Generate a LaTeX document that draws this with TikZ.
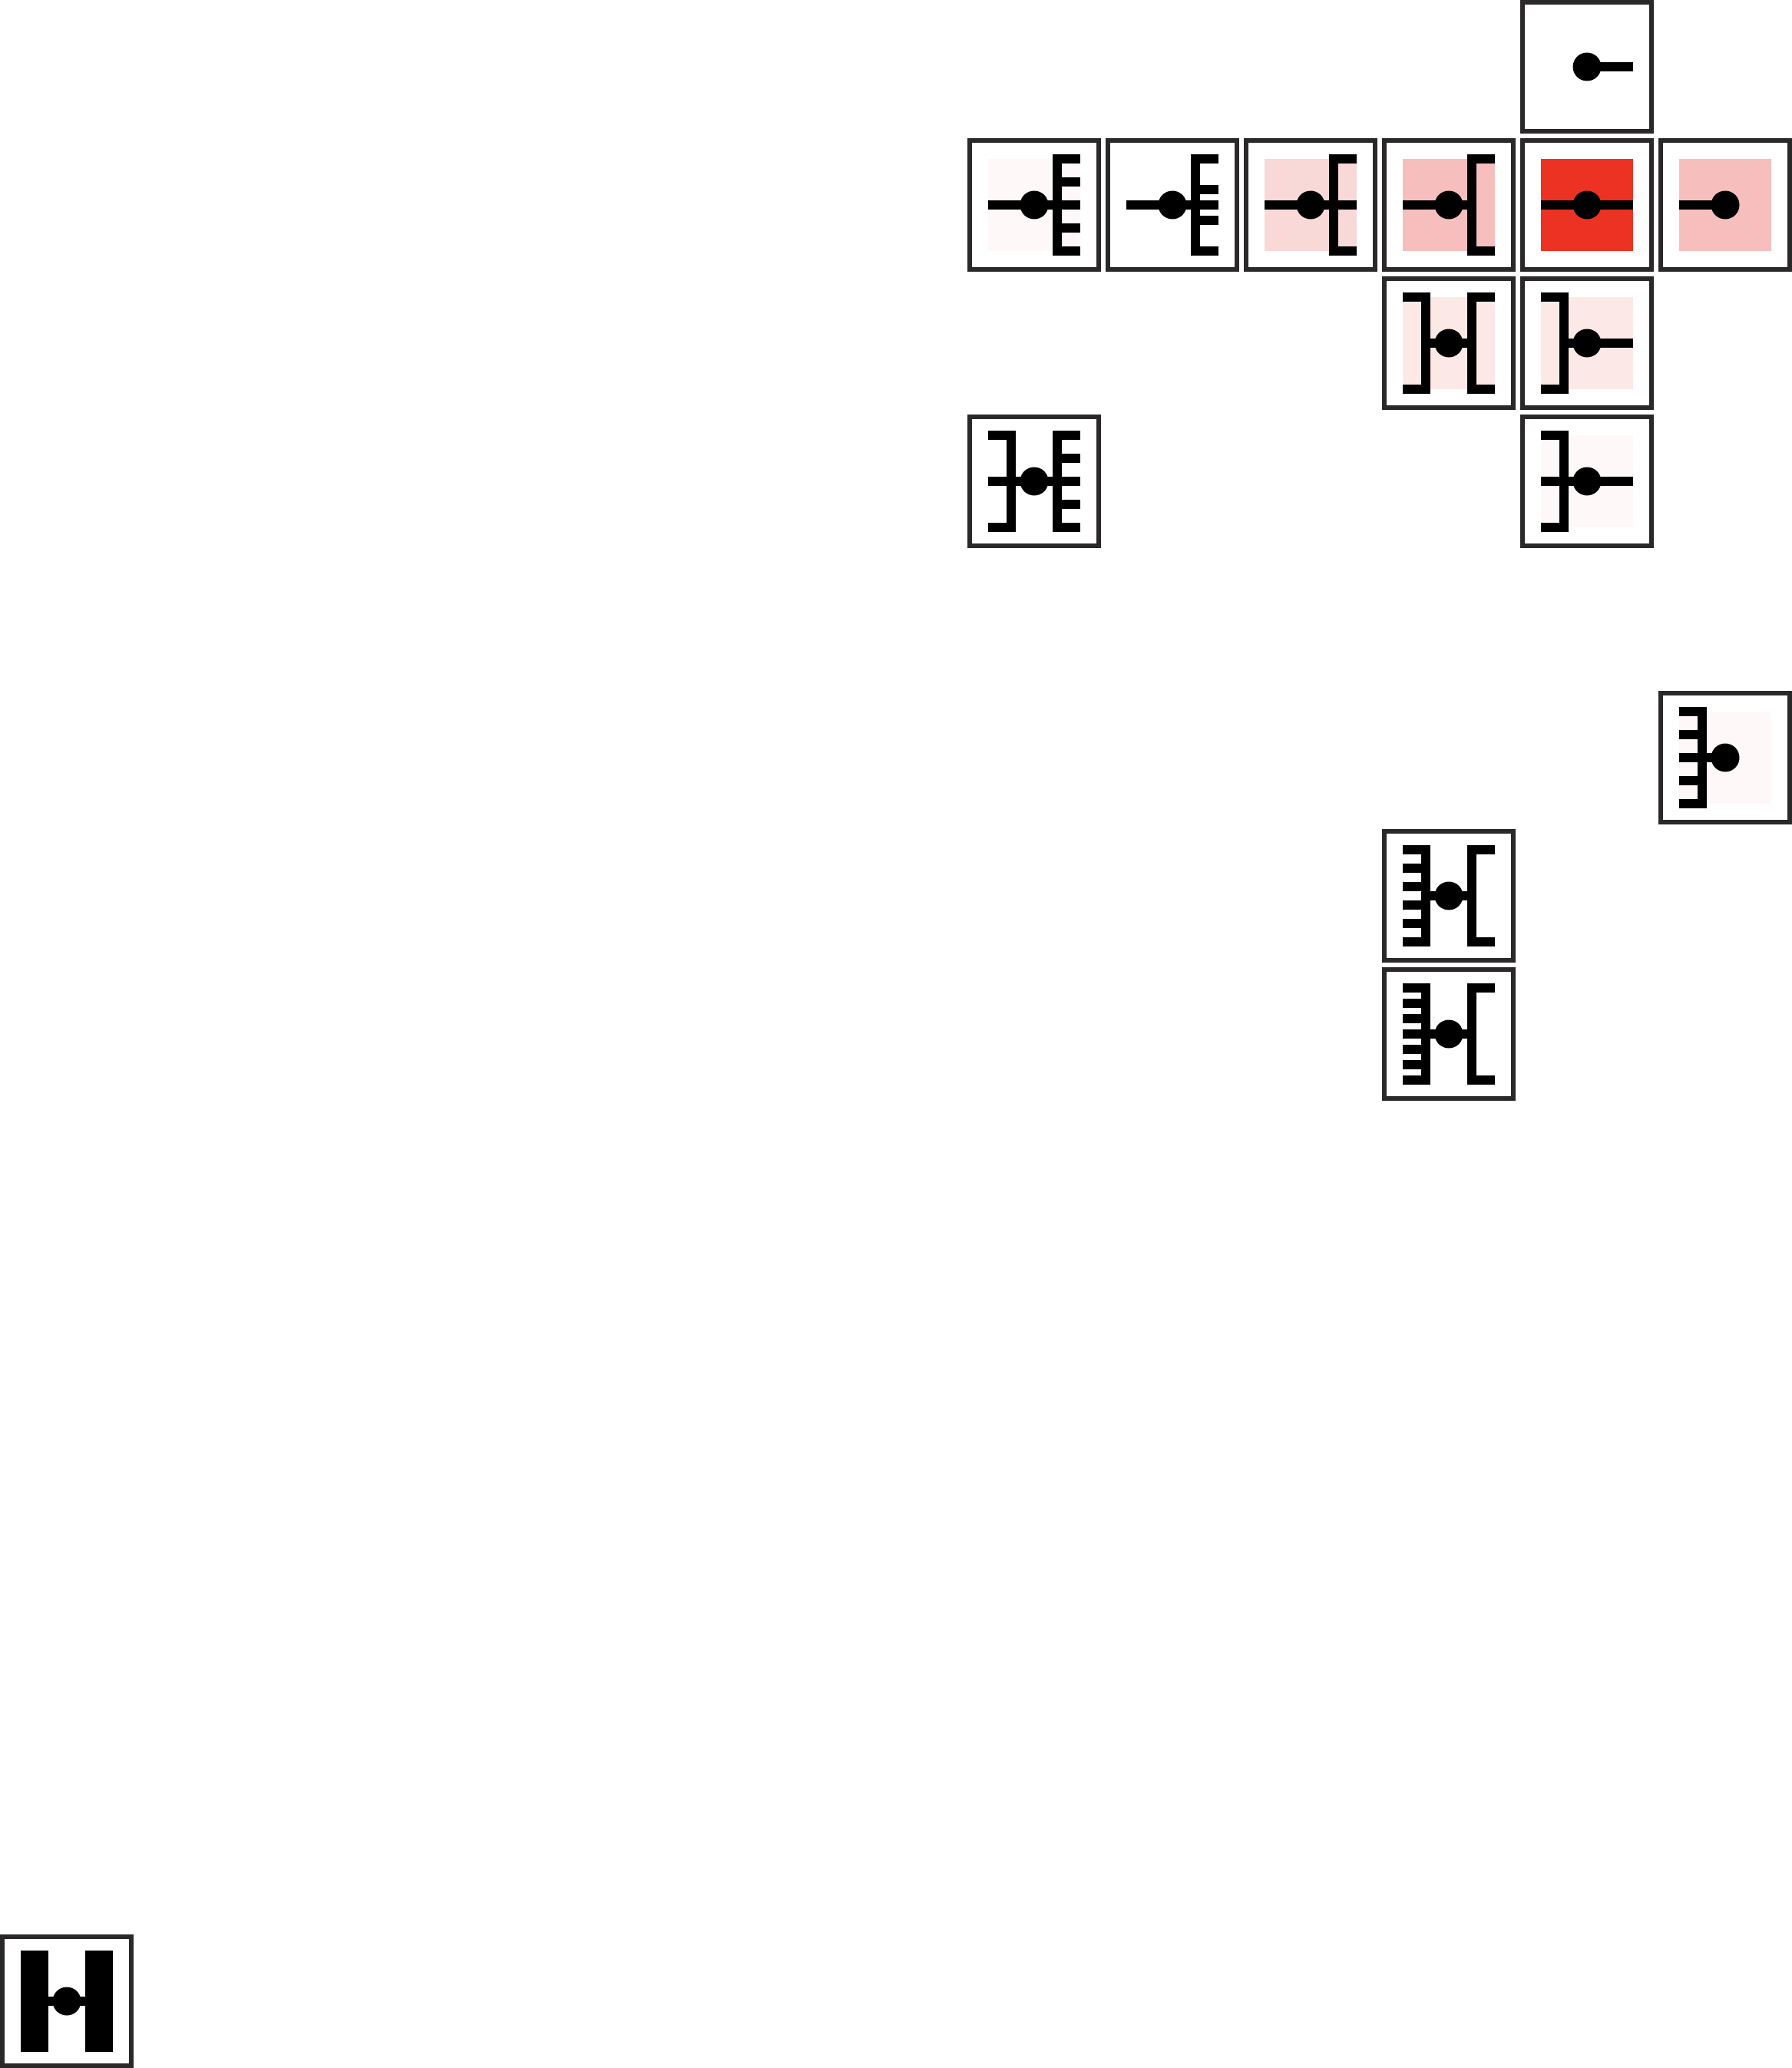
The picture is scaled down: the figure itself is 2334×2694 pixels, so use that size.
\documentclass[tikz,border=0pt]{standalone}
\definecolor{boxgray}{HTML}{2B2829}
\definecolor{hot}{HTML}{EC3323}
\definecolor{warm}{HTML}{F6BFBE}
\definecolor{mild}{HTML}{F9D9D7}
\definecolor{faint}{HTML}{FCE9E7}
\definecolor{pale}{HTML}{FEF9F8}
\tikzset{
  cellbox/.style={draw=boxgray, line width=0.06cm},
  stem/.style={fill=black},
}
% col, row, fill, left and right end of the stem
\newcommand{\cell}[5]{
  \begin{scope}[shift={({87+180*#1},{87+180*#2})}]
    \fill [#3] (-60,-60) rectangle (60,60);
    \draw [cellbox] (-84,-84) rectangle (84,84);
    \fill [stem] (#4,-6) rectangle (#5,6);
    \fill [stem] (0,0) circle (18.5);
  \end{scope}
}
% col, row, side (1 right, -1 left), list of teeth
\newcommand{\comb}[4]{
  \begin{scope}[shift={({87+180*#1},{87+180*#2})}, xscale=#3]
    \fill [stem] (24,-66) rectangle (36,66);
    \foreach \t in {#4} \fill [stem] (24,\t-6) rectangle (60,\t+6);
  \end{scope}
}
\begin{document}
\begin{tikzpicture}[x=0.01cm, y=-0.01cm]
  \useasboundingbox (0,0) rectangle (2334,2694);
  % first line
  \cell{11}{0}{white}{0}{60}
  % second line
  \cell{7}{1}{pale}{-60}{36}  \comb{7}{1}{1}{-60,-30,0,30,60}
  \cell{8}{1}{white}{-60}{36} \comb{8}{1}{1}{-60,-20,0,20,60}
  \cell{9}{1}{mild}{-60}{36}  \comb{9}{1}{1}{-60,0,60}
  \cell{10}{1}{warm}{-60}{36} \comb{10}{1}{1}{-60,60}
  \cell{11}{1}{hot}{-60}{60}
  \cell{12}{1}{warm}{-60}{0}
  % third line
  \cell{10}{2}{faint}{-36}{36} \comb{10}{2}{-1}{-60,60} \comb{10}{2}{1}{-60,60}
  \cell{11}{2}{faint}{-36}{60} \comb{11}{2}{-1}{-60,60}
  % fourth line
  \cell{7}{3}{white}{-60}{36}  \comb{7}{3}{-1}{-60,0,60} \comb{7}{3}{1}{-60,-30,0,30,60}
  \cell{11}{3}{pale}{-60}{60}  \comb{11}{3}{-1}{-60,0,60}
  % lower ones
  \cell{12}{5}{pale}{-36}{0}   \comb{12}{5}{-1}{-60,-30,0,30,60}
  \cell{10}{6}{white}{-36}{36} \comb{10}{6}{-1}{-60,-36,-12,12,36,60} \comb{10}{6}{1}{-60,60}
  \cell{10}{7}{white}{-36}{36} \comb{10}{7}{-1}{-60,-40,-20,0,20,40,60} \comb{10}{7}{1}{-60,60}
  \cell{0}{14}{white}{-36}{36} \comb{0}{14}{-1}{-60,-50,...,60} \comb{0}{14}{1}{-60,-50,...,60}
\end{tikzpicture}
\end{document}
